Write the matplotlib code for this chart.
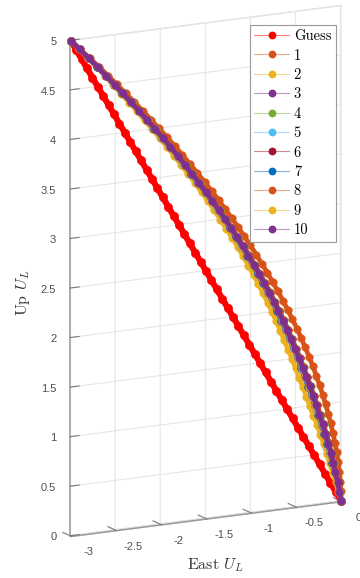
import matplotlib.pyplot as plt
from matplotlib.colors import to_rgba
from matplotlib.lines import Line2D
from mpl_toolkits.mplot3d import proj3d

plt.rcParams['mathtext.fontset'] = 'cm'
plt.rcParams['grid.color'] = '#e6e6e6'
plt.rcParams['grid.linewidth'] = 0.8

# Up coordinate shared by every trajectory (same sampling for all iterations)
up = [0.0, 0.1, 0.2, 0.3, 0.4, 0.5, 0.6, 0.7, 0.8, 0.9,
      1.0, 1.1, 1.2, 1.3, 1.4, 1.5, 1.6, 1.7, 1.8, 1.9,
      2.0, 2.1, 2.2, 2.3, 2.4, 2.5, 2.6, 2.7, 2.8, 2.9,
      3.0, 3.1, 3.2, 3.3, 3.4, 3.5, 3.6, 3.7, 3.8, 3.9,
      4.0, 4.1, 4.2, 4.3, 4.4, 4.5, 4.6, 4.7, 4.8, 4.9, 5.0]

# East coordinate of each trajectory
east_guess = [0.00, -0.06, -0.12, -0.18, -0.24, -0.30, -0.36, -0.42, -0.48, -0.54,
              -0.60, -0.66, -0.72, -0.78, -0.84, -0.90, -0.96, -1.02, -1.08, -1.14,
              -1.20, -1.26, -1.32, -1.38, -1.44, -1.50, -1.56, -1.62, -1.68, -1.74,
              -1.80, -1.86, -1.92, -1.98, -2.04, -2.10, -2.16, -2.22, -2.28, -2.34,
              -2.40, -2.46, -2.52, -2.58, -2.64, -2.70, -2.76, -2.82, -2.88, -2.94, -3.00]
east_1 = [0.000, -0.003, -0.010, -0.021, -0.034, -0.051, -0.070, -0.092, -0.117, -0.144,
          -0.174, -0.206, -0.240, -0.277, -0.315, -0.356, -0.400, -0.444, -0.491, -0.541,
          -0.593, -0.646, -0.702, -0.759, -0.818, -0.880, -0.943, -1.008, -1.075, -1.144,
          -1.215, -1.287, -1.361, -1.438, -1.515, -1.596, -1.678, -1.761, -1.845, -1.932,
          -2.021, -2.112, -2.203, -2.297, -2.393, -2.491, -2.587, -2.687, -2.791, -2.894, -3.000]
east_2 = [0.000, -0.033, -0.060, -0.096, -0.129, -0.161, -0.195, -0.232, -0.267, -0.309,
          -0.349, -0.386, -0.425, -0.467, -0.505, -0.546, -0.590, -0.634, -0.676, -0.721,
          -0.768, -0.816, -0.867, -0.919, -0.973, -1.030, -1.088, -1.148, -1.210, -1.274,
          -1.340, -1.407, -1.476, -1.548, -1.620, -1.696, -1.773, -1.851, -1.930, -2.012,
          -2.096, -2.182, -2.263, -2.352, -2.443, -2.531, -2.622, -2.712, -2.811, -2.904, -3.000]
east_3 = [0.000, -0.023, -0.044, -0.072, -0.099, -0.126, -0.155, -0.187, -0.219, -0.256,
          -0.293, -0.328, -0.366, -0.406, -0.444, -0.485, -0.529, -0.573, -0.617, -0.663,
          -0.712, -0.762, -0.814, -0.868, -0.923, -0.982, -1.042, -1.103, -1.167, -1.232,
          -1.300, -1.369, -1.439, -1.513, -1.586, -1.664, -1.743, -1.822, -1.903, -1.986,
          -2.072, -2.160, -2.244, -2.334, -2.427, -2.518, -2.611, -2.704, -2.805, -2.901, -3.000]
east_4 = [0.000, -0.019, -0.036, -0.060, -0.083, -0.108, -0.135, -0.165, -0.195, -0.230,
          -0.265, -0.300, -0.336, -0.376, -0.414, -0.455, -0.499, -0.543, -0.587, -0.635,
          -0.684, -0.734, -0.788, -0.842, -0.899, -0.958, -1.018, -1.081, -1.145, -1.212,
          -1.280, -1.349, -1.421, -1.495, -1.570, -1.648, -1.727, -1.808, -1.889, -1.974,
          -2.060, -2.148, -2.234, -2.326, -2.419, -2.512, -2.605, -2.700, -2.801, -2.899, -3.000]
east_5 = [0.000, -0.022, -0.042, -0.069, -0.095, -0.121, -0.150, -0.182, -0.213, -0.250,
          -0.286, -0.321, -0.358, -0.399, -0.437, -0.478, -0.522, -0.566, -0.609, -0.656,
          -0.705, -0.755, -0.808, -0.861, -0.917, -0.976, -1.036, -1.098, -1.161, -1.227,
          -1.295, -1.364, -1.435, -1.508, -1.582, -1.660, -1.739, -1.819, -1.899, -1.983,
          -2.069, -2.157, -2.241, -2.332, -2.425, -2.517, -2.609, -2.703, -2.804, -2.900, -3.000]
east_6 = [0.000, -0.020, -0.038, -0.063, -0.087, -0.113, -0.140, -0.170, -0.201, -0.236,
          -0.272, -0.307, -0.344, -0.383, -0.421, -0.462, -0.506, -0.550, -0.595, -0.642,
          -0.691, -0.741, -0.794, -0.849, -0.905, -0.964, -1.024, -1.086, -1.151, -1.217,
          -1.285, -1.354, -1.425, -1.500, -1.574, -1.652, -1.731, -1.811, -1.893, -1.977,
          -2.063, -2.151, -2.237, -2.328, -2.421, -2.513, -2.607, -2.701, -2.802, -2.900, -3.000]
east_7 = [0.000, -0.023, -0.044, -0.072, -0.099, -0.126, -0.155, -0.187, -0.219, -0.256,
          -0.293, -0.328, -0.366, -0.406, -0.444, -0.485, -0.529, -0.573, -0.617, -0.663,
          -0.712, -0.762, -0.814, -0.868, -0.923, -0.982, -1.042, -1.103, -1.167, -1.232,
          -1.300, -1.369, -1.439, -1.513, -1.586, -1.664, -1.743, -1.822, -1.903, -1.986,
          -2.072, -2.160, -2.244, -2.334, -2.427, -2.518, -2.611, -2.704, -2.805, -2.901, -3.000]
east_8 = [0.000, -0.020, -0.038, -0.063, -0.087, -0.113, -0.140, -0.170, -0.201, -0.236,
          -0.272, -0.307, -0.344, -0.383, -0.421, -0.462, -0.506, -0.550, -0.595, -0.642,
          -0.691, -0.741, -0.794, -0.849, -0.905, -0.964, -1.024, -1.086, -1.151, -1.217,
          -1.285, -1.354, -1.425, -1.500, -1.574, -1.652, -1.731, -1.811, -1.893, -1.977,
          -2.063, -2.151, -2.237, -2.328, -2.421, -2.513, -2.607, -2.701, -2.802, -2.900, -3.000]
east_9 = [0.000, -0.022, -0.042, -0.069, -0.095, -0.121, -0.150, -0.182, -0.213, -0.250,
          -0.286, -0.321, -0.358, -0.399, -0.437, -0.478, -0.522, -0.566, -0.609, -0.656,
          -0.705, -0.755, -0.808, -0.861, -0.917, -0.976, -1.036, -1.098, -1.161, -1.227,
          -1.295, -1.364, -1.435, -1.508, -1.582, -1.660, -1.739, -1.819, -1.899, -1.983,
          -2.069, -2.157, -2.241, -2.332, -2.425, -2.517, -2.609, -2.703, -2.804, -2.900, -3.000]
east_10 = [0.000, -0.021, -0.040, -0.066, -0.091, -0.117, -0.145, -0.176, -0.207, -0.243,
           -0.279, -0.314, -0.351, -0.391, -0.429, -0.470, -0.514, -0.558, -0.602, -0.649,
           -0.698, -0.748, -0.801, -0.855, -0.911, -0.970, -1.030, -1.092, -1.156, -1.222,
           -1.290, -1.359, -1.430, -1.504, -1.578, -1.656, -1.735, -1.815, -1.896, -1.980,
           -2.066, -2.154, -2.239, -2.330, -2.423, -2.515, -2.608, -2.702, -2.803, -2.900, -3.000]

# North stays zero: every trajectory lies in the East-Up plane
north = [0.0] * len(up)

labels = ['Guess', '1', '2', '3', '4', '5', '6', '7', '8', '9', '10']
colors = ['#ff0000', '#d95319', '#edb120', '#7e2f8e', '#77ac30', '#4dbeee',
          '#a2142f', '#0072bd', '#d95319', '#edb120', '#7e2f8e']
east_all = [east_guess, east_1, east_2, east_3, east_4, east_5,
            east_6, east_7, east_8, east_9, east_10]

east_ticks = [-3, -2.5, -2, -1.5, -1, -0.5, 0]
east_ticklabels = ['-3', '-2.5', '-2', '-1.5', '-1', '-0.5', '0']
up_ticks = [0, 0.5, 1, 1.5, 2, 2.5, 3, 3.5, 4, 4.5, 5]
up_ticklabels = ['0', '0.5', '1', '1.5', '2', '2.5', '3', '3.5', '4', '4.5', '5']

tick_font = dict(fontsize=8, family='Liberation Sans', color='#4d4d4d')

W, H = 360, 578
fig = plt.figure(figsize=(W / 100, H / 100), dpi=100)
fig.patch.set_facecolor('white')

# square 3D axes, sized so the tall box fills the figure height
side = 578
left_px, bottom_px = -90.8, 10.2
ax = fig.add_axes([left_px / W, bottom_px / H, side / W, side / H],
                  projection='3d', proj_type='ortho')
ax.set_facecolor((1, 1, 1, 0))
ax.view_init(elev=14, azim=-118)
ax.set_box_aspect((0.600, 0.006, 1.0), zoom=1.0)
ax.computed_zorder = False

for i, (east, col) in enumerate(zip(east_all, colors)):
    ms = 6.0 if i == 0 else 5.4
    lw = 4.4 if i == 0 else 3.4
    ax.plot(east, north, up, '-o', color=col, lw=lw, ms=ms,
            mfc=col, mec=col, mew=0.4, solid_capstyle='round')

ax.set_xlim(-3, 0)
ax.set_ylim(-1, 1)
ax.set_zlim(0, 5)

# panes: white, faint edges
for axis in (ax.xaxis, ax.yaxis, ax.zaxis):
    axis.pane.set_facecolor('white')
    axis.pane.set_edgecolor('#dcdcdc')
    axis.pane.set_alpha(1)

ax.set_yticks([])
ax.yaxis.line.set_color((1, 1, 1, 0))
ax.xaxis.line.set_color('#9a9a9a')
ax.zaxis.line.set_color('#9a9a9a')
ax.xaxis.line.set_linewidth(1.1)
ax.zaxis.line.set_linewidth(1.1)

ax.set_xticks(east_ticks)
ax.tick_params(axis='x', colors='#7a7a7a', labelbottom=False)

# East tick labels sit below-right of each tick: project the tick base
# with the axes' own view matrix, then offset in points
view_matrix = ax.get_proj()
for val, txt in zip(east_ticks, east_ticklabels):
    px, py, _ = proj3d.proj_transform(val, -1, 0, view_matrix)
    ax.annotate(txt, xy=(px, py), xycoords='data', xytext=(12.2, -11.5),
                textcoords='offset points', ha='center', va='center',
                annotation_clip=False, **tick_font)

ax.set_zticks(up_ticks)
ax.set_zticklabels(up_ticklabels, ha='right', va='center', **tick_font)
ax.tick_params(axis='z', pad=3, colors='#7a7a7a')
for lab in ax.get_zticklabels():
    lab.set_color('#4d4d4d')
ax.xaxis._axinfo['tick']['outward_factor'] = 75
ax.xaxis._axinfo['tick']['inward_factor'] = 0
ax.zaxis._axinfo['tick']['outward_factor'] = 0.42
ax.zaxis._axinfo['tick']['inward_factor'] = 0
ax.xaxis._axinfo['tick']['linewidth'] = {True: 0.8, False: 0.5}
ax.zaxis._axinfo['tick']['linewidth'] = {True: 0.8, False: 0.5}
ax.set_xlabel('')
ax.set_ylabel('')
ax.set_zlabel('')

fig.text(215 / W, 1 - 565 / H, r'East $U_L$', family='cmr10', fontsize=11.5,
         color='#333333', ha='center', va='center')
fig.text(23 / W, 1 - 293 / H, r'Up $U_L$', family='cmr10', fontsize=11.5,
         color='#333333', ha='center', va='center', rotation=90)

# legend entries: pale thin line with a solid marker
handles = [Line2D([], [], color=to_rgba(c, 0.5), lw=0.8, marker='o', ms=4.6,
                  mfc=c, mec=c) for c in colors]
leg = fig.legend(handles, labels, loc='upper left',
                 bbox_to_anchor=(250 / W, 1 - 25 / H), bbox_transform=fig.transFigure,
                 prop={'family': 'cmr10', 'size': 10.5}, frameon=True,
                 fancybox=False, edgecolor='#9a9a9a', framealpha=1,
                 handlelength=2.4, handletextpad=0.3, labelspacing=0.39,
                 borderpad=0.3, borderaxespad=0)
leg.get_frame().set_linewidth(0.8)

fig.savefig('out.png', dpi=100, facecolor='white')
